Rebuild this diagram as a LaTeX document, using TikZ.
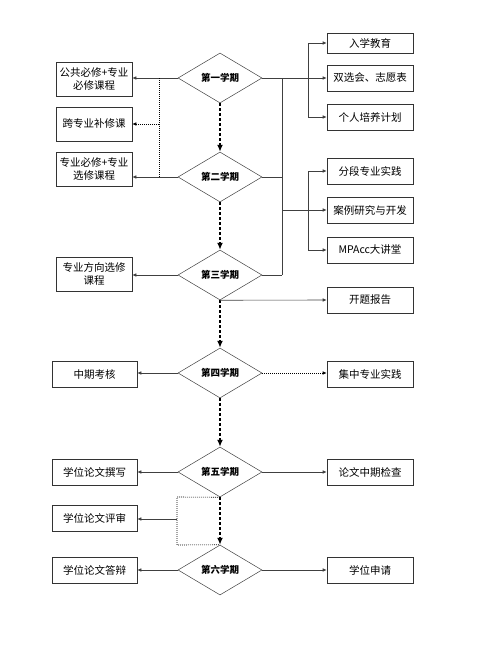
\documentclass[tikz,border=0pt]{standalone}
\usepackage{fontspec}
\setmainfont{Noto Sans CJK SC}
\usetikzlibrary{shapes.geometric,arrows.meta}
\begin{document}
\begin{tikzpicture}[x=1pt,y=-1pt,
  term/.style={diamond,draw=black!75,line width=0.5pt,minimum width=84pt,minimum height=50pt,inner sep=0pt,font=\fontsize{9.5}{11}\selectfont\bfseries},
  box/.style={rectangle,draw=black!80,line width=0.6pt,inner sep=0pt,align=center,font=\fontsize{10.5}{13}\selectfont},
  lbox/.style={box,minimum width=76pt,minimum height=34pt},
  llbox/.style={box,minimum width=85pt,minimum height=26pt},
  rbox/.style={box,minimum width=86pt,minimum height=26pt},
  conn/.style={draw=black!75,line width=0.6pt},
  arr/.style={conn,-{Latex[length=4pt,width=3.5pt]}},
  dotarr/.style={draw=black,line width=0.6pt,dash pattern=on 0.8pt off 1.2pt,-{Latex[length=4pt,width=3.5pt]}},
  dotl/.style={draw=black,line width=0.6pt,dash pattern=on 0.8pt off 1.2pt},
  flow/.style={draw=black,line width=1.6pt,dash pattern=on 3pt off 2pt,-{Latex[length=7pt,width=6pt]}}
]
\useasboundingbox (0,0) rectangle (500,648);
% diamonds
\node[term] (d1) at (220,78) {第一学期};
\node[term] (d2) at (220,177) {第二学期};
\node[term] (d3) at (220,275) {第三学期};
\node[term] (d4) at (220,373) {第四学期};
\node[term] (d5) at (220,472) {第五学期};
\node[term] (d6) at (220,570) {第六学期};
% left boxes
\node[lbox] (b1) at (94,79) {公共必修+专业\\必修课程};
\node[lbox] (b2) at (94,124) {跨专业补修课};
\node[lbox] (b3) at (94,169) {专业必修+专业\\选修课程};
\node[lbox] (b4) at (94,274) {专业方向选修\\课程};
\node[llbox] (b5) at (94.5,374.5) {中期考核};
\node[llbox] (b6) at (94.5,472) {学位论文撰写};
\node[llbox] (b7) at (94.5,518.5) {学位论文评审};
\node[llbox] (b8) at (94.5,570) {学位论文答辩};
% right boxes
\node[rbox,minimum height=20pt] (r1) at (370,43) {入学教育};
\node[rbox] (r2) at (370,78) {双选会、志愿表};
\node[rbox] (r3) at (370,117) {个人培养计划};
\node[rbox] (r4) at (370,171) {分段专业实践};
\node[rbox] (r5) at (370,210) {案例研究与开发};
\node[rbox] (r6) at (370,250) {MPAcc大讲堂};
\node[rbox] (r7) at (370,300) {开题报告};
\node[rbox] (r8) at (370,374) {集中专业实践};
\node[rbox] (r9) at (370,472) {论文中期检查};
\node[rbox] (r10) at (370,570) {学位申请};
% helper coordinates
\coordinate (lv1) at (159,78);
\coordinate (lv2) at (159,177);
\coordinate (lv3) at (159,124);
\coordinate (k1) at (308,78);
\coordinate (k2) at (308,210);
\coordinate (m1) at (282,78);
\coordinate (m2) at (282,177);
\coordinate (m3) at (282,210);
\coordinate (m4) at (282,275);
\coordinate (p1) at (177,497);
\coordinate (p2) at (177,545);
\coordinate (p3) at (177,519);
% flow arrows
\draw[flow] (d1.south) -- (d2.north);
\draw[flow] (d2.south) -- (d3.north);
\draw[flow] (d3.south) -- (d4.north);
\draw[flow] (d4.south) -- (d5.north);
\draw[flow] (d5.south) -- (d6.north);
% left connections
\draw[arr] (d1.west) -- (d1.west -| b1.east);
\draw[dotl] (lv1) -- (lv2);
\draw[dotarr] (lv3) -- (b2.east);
\draw[arr] (d2.west) -- (d2.west -| b3.east);
\draw[arr] (d3.west) -- (d3.west -| b4.east);
\draw[arr] (d4.west) -- (d4.west -| b5.east);
\draw[arr] (d5.west) -- (b6.east);
\draw[dotl] (d5.south) -- (p1) -- (p2) -- (d6.north);
\draw[arr] (p3) -- (p3 -| b7.east);
\draw[arr] (d6.west) -- (b8.east);
% right connections
\draw[arr] (d1.east) -- (r2.west);
\draw[arr] (k1) |- (r1.west);
\draw[arr] (k1) |- (r3.west);
\draw[conn] (m1) -- (m4);
\draw[conn] (d2.east) -- (m2);
\draw[conn] (d3.east) -- (m4);
\draw[arr] (m3) -- (r5.west);
\draw[arr] (k2) |- (r4.west);
\draw[arr] (k2) |- (r6.west);
\draw[arr] (d3.south) -- (r7.west);
\draw[dotarr] (d4.east) -- (d4.east -| r8.west);
\draw[arr] (d5.east) -- (r9.west);
\draw[arr] (d6.east) -- (r10.west);
\end{tikzpicture}
\end{document}
